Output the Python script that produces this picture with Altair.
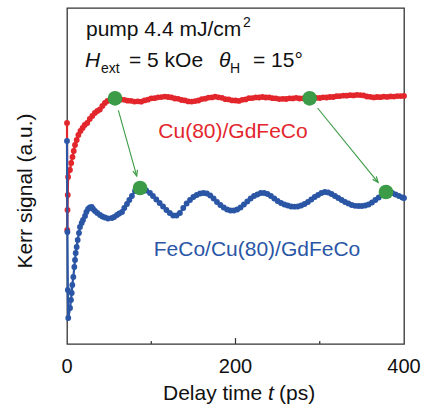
import math
import altair as alt
import pandas as pd

FONT = "Liberation Sans"
RED = "#e2262c"
BLUE = "#2a56a5"
GREEN = "#3b9b46"

# ---- data (t in ps, signal in arbitrary units) ----
red_t = [0, 0.3, 0.6, 0.9, 1.3, 3.5, 5, 6.5, 8, 9.5, 11.5, 13.5, 16, 18.5, 21, 24, 27, 30, 33, 36, 39, 42, 45, 48, 52,
         56, 60, 64, 68, 72, 76, 80, 84, 88, 92, 96, 100, 104, 108, 112, 116, 120, 124, 128, 132, 136, 140, 144, 148,
         152, 156, 160, 164, 168, 172, 176, 180, 184, 188, 192, 196, 200, 204, 208, 212, 216, 220, 224, 228, 232, 236,
         240, 244, 248, 252, 256, 260, 264, 268, 272, 276, 280, 284, 288, 292, 296, 300, 304, 308, 312, 316, 320, 324,
         328, 332, 336, 340, 344, 348, 352, 356, 360, 364, 368, 372, 376, 380, 384, 388, 392, 396, 400]
red_s = [221, 114, 134, 149, 167, 174, 181, 187, 193, 199, 204, 209, 213, 216, 219, 221, 225, 228, 231, 233, 234.5, 238,
         241, 243, 245,
         245.5, 245.8, 244.5, 244.2, 243.3, 243.2, 242.4, 242.7, 242.3, 243.6, 244.3, 245.7, 245.8, 246.7, 246.9,
         247.4, 247.0, 246.6, 245.5, 245.2, 244.0, 243.6, 242.6, 242.4, 242.9, 243.5, 244.9, 245.3, 246.4, 246.6,
         247.3, 246.7, 246.2, 244.8, 244.6, 243.6, 243.5, 243.1, 244.2, 244.6, 245.8, 245.9, 246.6, 246.5, 247.0,
         246.5, 246.6, 245.8, 245.7, 244.9, 245.2, 245.0, 245.7, 245.6, 246.2, 245.5, 245.7, 245.4, 245.8, 245.6,
         246.2, 246.0, 246.7, 246.5, 247.0, 247.0, 247.8, 247.9, 248.4, 248.3, 248.8, 248.6, 249.1, 248.9, 248.6,
         247.5, 247.2, 246.6, 247.0, 246.8, 247.4, 247.1, 247.6, 247.4, 247.9, 247.9, 248.1]

blue_t = [0, 0.5, 1.0, 1.5, 3.6, 4.7, 5.6, 6.3, 7.5, 8.7, 9.5, 10.3, 11.5, 12.7, 14.2, 15.4, 17.4, 19, 21.4, 23, 25, 27,
          29.3, 31, 33.2, 36, 39.2, 42, 45, 48.7, 53.4, 56, 59.3, 62, 65.3, 68, 71.2, 74, 77, 80.7, 84, 86.7, 90, 94,
          98.5, 102, 106, 110, 114, 118, 122, 126, 130, 134, 138, 142, 146, 150, 154, 158, 162, 166, 170, 174, 178,
          182, 186, 190, 194, 198, 202, 206, 210, 214, 218, 222, 226, 230, 234, 238, 242, 246, 250, 254, 258, 262,
          266, 270, 274, 278, 282, 286, 290, 294, 298, 302, 306, 310, 314, 318, 322, 326, 330, 334, 338, 342, 346,
          350, 354, 358, 362, 366, 370, 374, 378, 382, 386, 390, 394, 398, 400]
blue_s = [203, 112, 54, 26, 36, 44, 51, 59, 67, 77, 84, 91, 97, 104, 111, 117, 121, 124, 128, 132, 135, 136.5,
          137, 135, 133, 131, 129, 127.5, 126.5, 125.5, 126, 127, 129, 130.5, 132, 136, 140, 144, 148, 153, 155, 156,
          155.5, 153.5, 151, 148, 144.5, 141, 137.5, 134, 131, 128.5, 128.5, 131, 136, 140.5, 144, 147, 149, 150.5,
          151, 150.5, 148.5, 145.5, 142, 139, 136.5, 134.5, 133.5, 133.5, 134.5, 136.5, 139.5, 142.5, 145.5, 148,
          149.5, 151, 151, 150, 148, 145.5, 143, 141, 139.5, 138.5, 137.5, 137.3, 137.5, 138.5, 140, 142, 144.5, 147,
          149, 151, 152, 151.5, 150, 148, 146, 144, 142, 140.5, 139, 138.2, 138, 138, 138.5, 139.5, 141.5, 144,
          146.5, 149, 151.5, 152, 151, 149.5, 148, 146.5, 146]

green_t = [57, 288, 86.7, 378.6]
green_s = [245.7, 245.7, 156, 152]
# arrows go from each red marker to the matching blue marker
arrow_from = [0, 1]
arrow_to = [2, 3]

major_ticks = [200]
minor_ticks = [100, 300]
tick_labels = [0, 200, 400]

# ---- layout ----
W, H = 337, 336
XMAX, YMAX = 400, 336

xs = alt.Scale(domain=[0, XMAX], nice=False, zero=False)
ys = alt.Scale(domain=[0, YMAX], nice=False, zero=False)
X = lambda f: alt.X(f, type="quantitative", scale=xs, axis=None)
Y = lambda f: alt.Y(f, type="quantitative", scale=ys, axis=None)

red = pd.DataFrame({"t": red_t, "s": red_s})
blue = pd.DataFrame({"t": blue_t, "s": blue_s})
green = pd.DataFrame({"t": green_t, "s": green_s})

# arrow geometry derived from marker data (pixel space)
px_x = W / XMAX
px_y = H / YMAX
gap = 12.5
rows = []
for a, b in zip(arrow_from, arrow_to):
    ta, sa, tb, sb = green_t[a], green_s[a], green_t[b], green_s[b]
    dx = (tb - ta) * px_x
    dy = -(sb - sa) * px_y  # screen y points down
    L = math.hypot(dx, dy)
    f0, f1 = gap / L, 1 - gap / L
    ux, uy = dx / L, dy / L
    ang = (math.degrees(math.atan2(-ux, uy)) + 360) % 360
    rows.append({"t0": ta + (tb - ta) * f0, "s0": sa + (sb - sa) * f0,
                 "t1": ta + (tb - ta) * f1, "s1": sa + (sb - sa) * f1, "ang": ang})
arrows = pd.DataFrame(rows)

layers = []
for df, col in ((red, RED), (blue, BLUE)):
    base = alt.Chart(df)
    layers.append(base.mark_line(color=col, strokeWidth=2.2).encode(x=X("t"), y=Y("s")))
    layers.append(base.mark_circle(color=col, size=34, opacity=1).encode(x=X("t"), y=Y("s")))

layers.append(alt.Chart(arrows).mark_rule(color=GREEN, strokeWidth=1.1).encode(
    x=X("t0"), y=Y("s0"), x2="t1", y2="s1"))
layers.append(alt.Chart(arrows).mark_point(
    shape="M-0.42,-1L0,0L0.42,-1", filled=False, color=GREEN, strokeWidth=1.2, size=130, opacity=1
).encode(x=X("t1"), y=Y("s1"), angle=alt.Angle("ang:Q", scale=None)))
layers.append(alt.Chart(green).mark_circle(color=GREEN, size=215, opacity=1).encode(x=X("t"), y=Y("s")))

# inner ticks on the bottom frame
layers.append(alt.Chart(pd.DataFrame({"t": major_ticks})).mark_rule(color="#333", strokeWidth=1.2).encode(
    x=X("t"), y=alt.value(H), y2=alt.value(H - 6)))
layers.append(alt.Chart(pd.DataFrame({"t": minor_ticks})).mark_rule(color="#333", strokeWidth=1.2).encode(
    x=X("t"), y=alt.value(H), y2=alt.value(H - 3)))
layers.append(alt.Chart(pd.DataFrame({"t": tick_labels})).mark_text(
    font=FONT, fontSize=20, align="center", baseline="alphabetic", color="#111"
).encode(x=X("t"), y=alt.value(365), text=alt.Text("t:Q", format="d")))


def label(txt, x, y, size=21, color="#111", style="normal", align="left", angle=0):
    return alt.Chart(pd.DataFrame({"txt": [txt]})).mark_text(
        font=FONT, fontSize=size, fontStyle=style, color=color, align=align,
        baseline="alphabetic", angle=angle
    ).encode(x=alt.value(x), y=alt.value(y), text="txt:N")


layers += [
    label("pump 4.4 mJ/cm", 19, 28),
    label("2", 176, 19, size=14),
    label("H", 18, 58.7, style="italic"),
    label("ext", 34, 65, size=14),
    label("= 5 kOe", 62, 58.7),
    label("θ", 152, 58.7, style="italic"),
    label("H", 163, 65, size=14),
    label("= 15°", 186, 58.7),
    label("Cu(80)/GdFeCo", 166, 130, color=RED, align="center"),
    label("FeCo/Cu(80)/GdFeCo", 190, 248, color=BLUE, align="center"),
    label("Delay time", 96, 392),
    label("t", 201, 392, style="italic"),
    label("(ps)", 212, 392),
    label("Kerr signal (a.u.)", -35.5, 183, align="center", angle=270),
]

chart = alt.layer(*layers).properties(
    width=W, height=H,
    autosize=alt.AutoSizeParams(type="none"),
    padding={"left": 67, "top": 8, "right": 21, "bottom": 68},
    background="white",
).configure_view(stroke="#333", strokeWidth=1.3)

chart.save("out.html", embed_options={"renderer": "svg", "actions": False})
